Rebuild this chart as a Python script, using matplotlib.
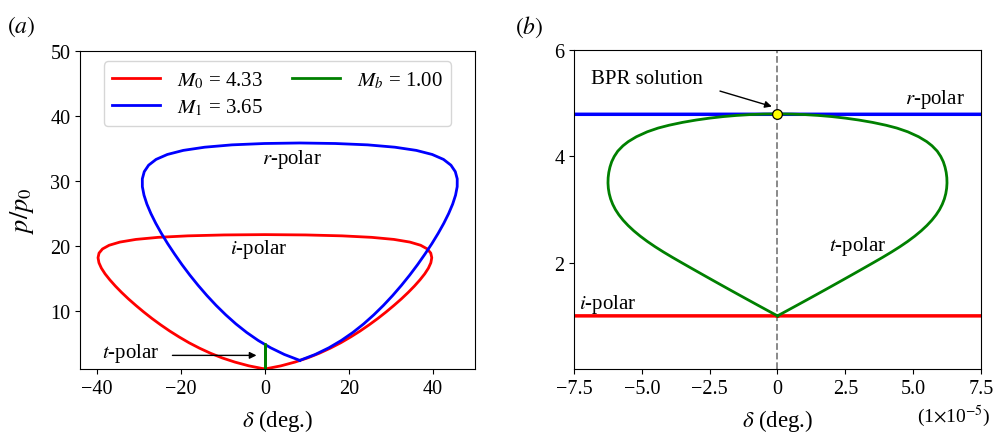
import numpy as np
import matplotlib.pyplot as plt

plt.rcParams['font.family'] = 'serif'
plt.rcParams['font.serif'] = ['Liberation Serif', 'DejaVu Serif']
plt.rcParams['mathtext.fontset'] = 'stix'

# i-polar (M0 = 4.33), right half from the free-stream point up to the normal shock
i_delta = [0.00, 3.83, 7.16, 10.17, 12.95, 15.56, 18.04, 20.39, 22.65, 24.81,
           26.88, 28.84, 30.71, 32.47, 34.10, 35.58, 36.90, 38.03, 38.91, 39.49,
           39.71, 39.47, 38.65, 37.06, 34.50, 30.70, 25.38, 18.34, 9.69, 0.00]
i_p = [1.00, 1.49, 2.07, 2.71, 3.43, 4.21, 5.04, 5.93, 6.85, 7.81,
       8.79, 9.79, 10.80, 11.80, 12.80, 13.78, 14.74, 15.66, 16.54, 17.37,
       18.15, 18.86, 19.50, 20.07, 20.56, 20.97, 21.29, 21.52, 21.66, 21.71]

# r-polar (M1 = 3.65), left and right branches
r_delta_left = [8.30, 4.63, 1.37, -1.59, -4.33, -6.90, -9.32, -11.62, -13.81, -15.89,
                -17.87, -19.74, -21.49, -23.13, -24.63, -25.97, -27.13, -28.08, -28.77, -29.16,
                -29.17, -28.71, -27.67, -25.90, -23.21, -19.42, -14.33, -7.86, -0.16, 8.30]
r_delta_right = [8.30, 11.97, 15.23, 18.19, 20.93, 23.50, 25.92, 28.22, 30.41, 32.49,
                 34.47, 36.34, 38.09, 39.73, 41.23, 42.57, 43.73, 44.68, 45.37, 45.76,
                 45.77, 45.31, 44.27, 42.50, 39.81, 36.02, 30.93, 24.46, 16.76, 8.30]
r_p = [2.33, 3.24, 4.27, 5.40, 6.63, 7.95, 9.35, 10.81, 12.33, 13.89,
       15.48, 17.09, 18.71, 20.31, 21.90, 23.45, 24.96, 26.41, 27.79, 29.09,
       30.30, 31.41, 32.41, 33.30, 34.06, 34.69, 35.18, 35.54, 35.75, 35.83]

# t-polar (Mb = 1.00), half width in units of 1e-5 deg
t_delta = [0.000, 0.362, 0.722, 1.080, 1.436, 1.790, 2.142, 2.492, 2.840, 3.186,
           3.530, 3.870, 4.198, 4.508, 4.796, 5.059, 5.296, 5.506, 5.689, 5.845,
           5.974, 6.074, 6.150, 6.203, 6.235, 6.248, 6.242, 6.218, 6.175, 6.112,
           6.017, 5.887, 5.697, 5.50, 5.20, 4.80, 4.40, 4.00, 3.50, 3.00,
           2.50, 2.00, 1.50, 1.00, 0.50, 0.00]
t_p = [1.00, 1.10, 1.20, 1.30, 1.40, 1.50, 1.60, 1.70, 1.80, 1.90,
       2.00, 2.10, 2.20, 2.30, 2.40, 2.50, 2.60, 2.70, 2.80, 2.90,
       3.00, 3.10, 3.20, 3.30, 3.40, 3.50, 3.60, 3.70, 3.80, 3.90,
       4.00, 4.10, 4.20, 4.279, 4.371, 4.464, 4.534, 4.587, 4.641, 4.685,
       4.721, 4.750, 4.772, 4.788, 4.797, 4.800]

bpr_delta, bpr_p = 0.0, 4.80
legend_labels = [r'$M_0$ = 4.33', r'$M_1$ = 3.65', r'$M_b$ = 1.00']
xticks_b = [-7.5, -5.0, -2.5, 0, 2.5, 5.0, 7.5]
xticklabels_b = ['\u22127.5', '\u22125.0', '\u22122.5', '0', '2.5', '5.0', '7.5']

# closed loops
i_d = np.array(i_delta)
i_loop_d = np.concatenate([i_d, -i_d[::-1]])
i_loop_p = np.concatenate([i_p, i_p[::-1]])
r_loop_d = np.concatenate([r_delta_right, r_delta_left[::-1]])
r_loop_p = np.concatenate([r_p, r_p[::-1]])
t_d = np.array(t_delta)
t_loop_d = np.concatenate([t_d, -t_d[::-1]])  # x1e-5 deg
t_loop_p = np.concatenate([t_p, t_p[::-1]])

lw = 2.0
fig = plt.figure(figsize=(9.95, 4.35), dpi=100)
ax1 = fig.add_axes([0.0804, 0.1494, 0.397, 0.731])
ax2 = fig.add_axes([0.5769, 0.1494, 0.409, 0.733])

# (a)
ax1.plot(i_loop_d, i_loop_p, color='red', lw=lw, label=legend_labels[0])
ax1.plot(r_loop_d, r_loop_p, color='blue', lw=lw, label=legend_labels[1])
ax1.plot(t_loop_d * 1e-5, t_loop_p, color='green', lw=lw, label=legend_labels[2])
ax1.set_xlim(-44, 50)
ax1.set_ylim(1, 50)
ax1.set_xticks([-40, -20, 0, 20, 40])
ax1.set_yticks([10, 20, 30, 40, 50])
ax1.set_xlabel(r'$\delta$ (deg.)', fontsize=16.5, va='top')
ax1.xaxis.set_label_coords(0.5, -0.12)
ax1.set_ylabel(r'$p/p_0$', fontsize=19)
ax1.yaxis.set_label_coords(-0.112, 0.5)
ax1.legend(loc='upper center', ncol=2, fontsize=15, handlelength=2.3,
           columnspacing=1.4, borderpad=0.4, labelspacing=0.3)
ax1.text(6.4, 33.4, r'$r$-polar', fontsize=15, ha='center', va='center')
ax1.text(-1.5, 19.5, r'$i$-polar', fontsize=15, ha='center', va='center')
ax1.text(-32, 3.5, r'$t$-polar', fontsize=15, ha='center', va='center')
ax1.annotate('', xy=(-2.0, 3.1), xytext=(-22, 3.1),
             arrowprops=dict(arrowstyle='-|>', color='black', lw=1.0, mutation_scale=10,
                             shrinkA=0, shrinkB=0))

# (b)
ax2.axvline(0, color='gray', ls='--', lw=1.3, zorder=1)
ax2.plot(i_loop_d * 1e5, i_loop_p, color='red', lw=lw + 0.5)
ax2.plot(r_loop_d * 1e5, r_loop_p, color='blue', lw=lw + 0.5)
ax2.plot(t_loop_d, t_loop_p, color='green', lw=lw)
ax2.plot([bpr_delta], [bpr_p], 'o', ms=7, mfc='yellow', mec='black', mew=0.9, zorder=5)
ax2.set_xlim(-7.5, 7.5)
ax2.set_ylim(0, 6)
ax2.set_xticks(xticks_b, xticklabels_b)
ax2.set_yticks([2, 4, 6])
ax2.set_xlabel(r'$\delta$ (deg.)', fontsize=16.5, va='top')
ax2.xaxis.set_label_coords(0.5, -0.12)
ax2.text(-4.8, 5.47, 'BPR solution', fontsize=15, ha='center', va='center')
ax2.annotate('', xy=(-0.21, 4.94), xytext=(-2.12, 5.23),
             arrowprops=dict(arrowstyle='-|>', color='black', lw=1.0, mutation_scale=10,
                             shrinkA=0, shrinkB=0))
ax2.text(6.9, 5.09, r'$r$-polar', fontsize=15, ha='right', va='center')
ax2.text(2.97, 2.33, r'$t$-polar', fontsize=15, ha='center', va='center')
ax2.text(-6.25, 1.24, r'$i$-polar', fontsize=15, ha='center', va='center')
ax2.text(1.022, -0.145, r'(1$\times$10$^{-5}$)', transform=ax2.transAxes,
         fontsize=14, ha='right', va='center')

fig.text(7 / 995, 1 - 27 / 435, r'$(a)$', fontsize=17, ha='left', va='center')
fig.text(515 / 995, 1 - 27 / 435, r'$(b)$', fontsize=17, ha='left', va='center')

for ax in (ax1, ax2):
    ax.tick_params(labelsize=14.5)

fig.savefig('out.png', dpi=100)
